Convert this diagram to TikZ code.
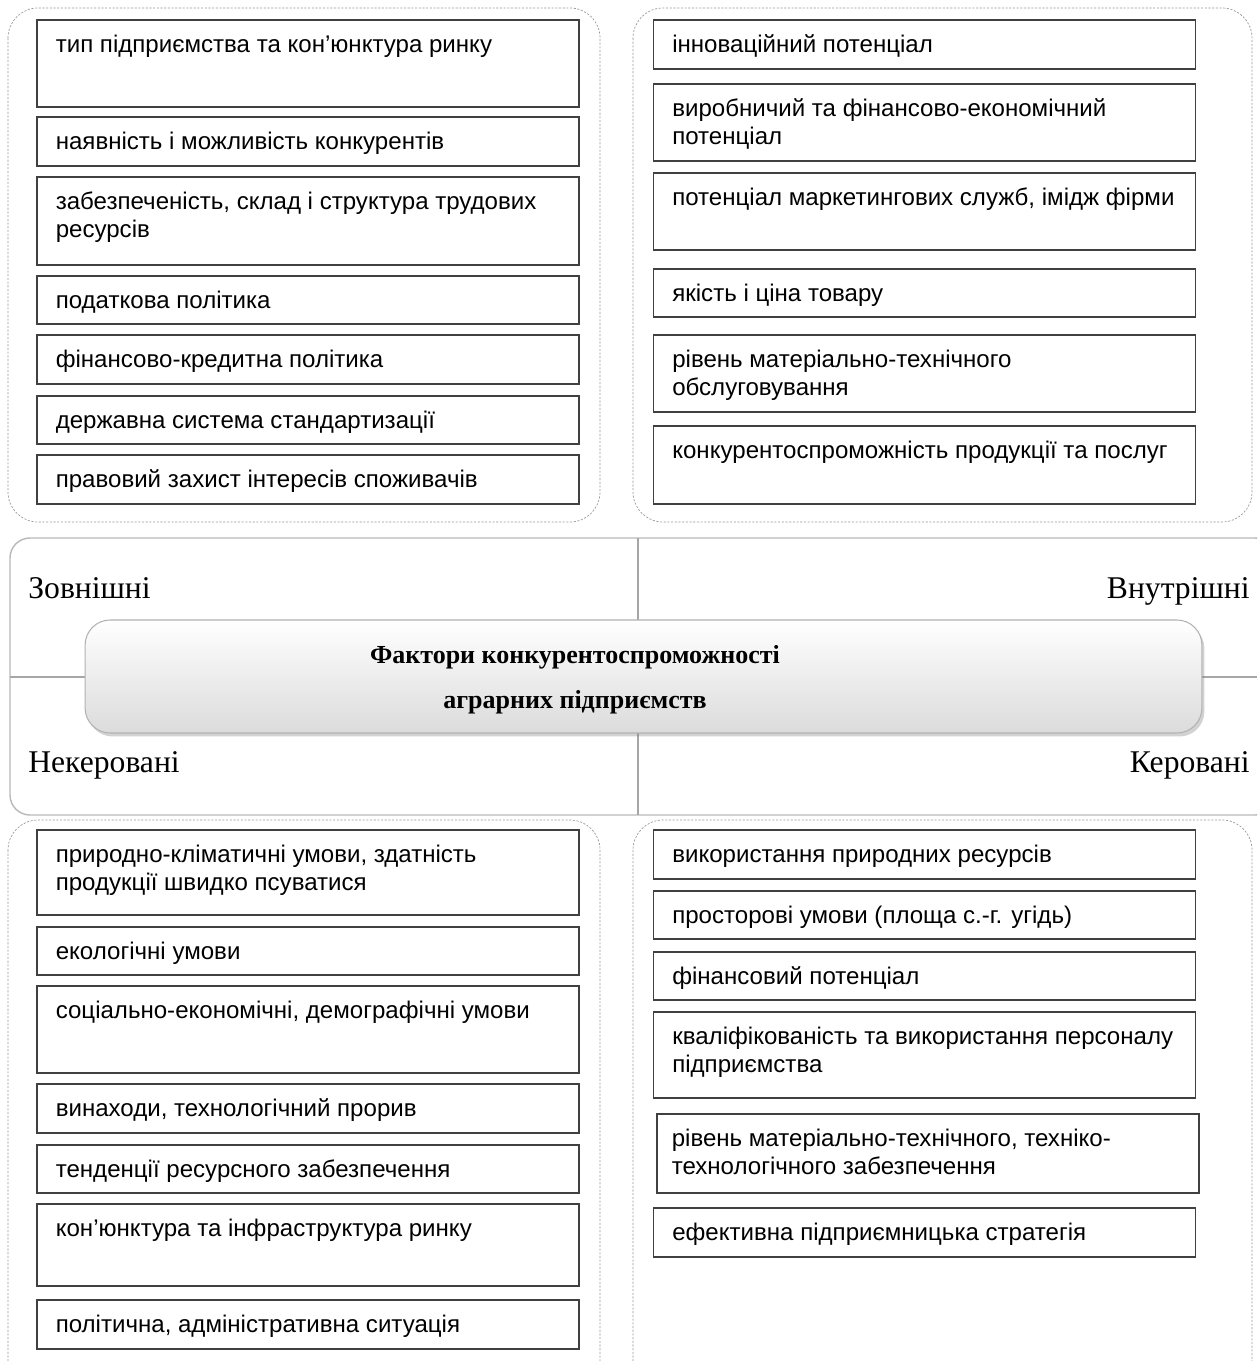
\documentclass[tikz,border=0pt]{standalone}
\usepackage{fontspec}
\setmainfont{Liberation Sans}
\newfontfamily\tnrfont{Liberation Serif}
\usetikzlibrary{calc, shadows}

\tikzset{
  x=0.02cm, y=-0.02cm,
  group/.style={draw=gray!80, line width=0.4pt, dash pattern=on 1.2pt off 0.9pt, rounded corners=0.6cm},
  factor/.style={draw=black!75, line width=0.7pt, inner sep=0pt, minimum width=10.84cm},
  factortext/.style={font=\fontsize{13.7}{15.8}\selectfont, anchor=base west, inner sep=0pt},
  axis/.style={draw=gray!70, line width=1pt},
  side/.style={font=\tnrfont\fontsize{18}{21}\selectfont, inner sep=0pt},
}

\begin{document}
\begin{tikzpicture}
\useasboundingbox (0,0) rectangle (1257,1361);
\clip (0,0) rectangle (1257,1361);

%groups of factors
\draw[group] (8,8) rectangle (600,522);
\draw[group] (633,8) rectangle (1252,522);
\draw[group] (8,820) rectangle (600,1400);
\draw[group] (633,820) rectangle (1252,1400);

%middle band
\draw[draw=gray!55, line width=0.8pt, rounded corners=0.4cm, fill=white] (10,538) rectangle (1275,815);
\coordinate (vtop) at (638,538);
\coordinate (vbot) at (638,815);
\coordinate (hl) at (10,677);
\coordinate (hr) at (1257,677);
\draw[axis] (vtop) -- (vbot);
\draw[axis] (hl) -- (hr);

\node[side, anchor=base west] (ext) at (28,598) {Зовнішні};
\node[side, anchor=base east] (int) at (1250,598) {Внутрішні};
\node[side, anchor=base west] (unc) at (28,772) {Некеровані};
\node[side, anchor=base east] (con) at (1250,772) {Керовані};

\node[draw=gray!60, line width=0.6pt, rounded corners=0.5cm, top color=white, bottom color=gray!28,
  drop shadow={opacity=0.35, shadow xshift=0.05cm, shadow yshift=-0.07cm},
  minimum width=22.34cm, minimum height=2.26cm] (main) at (643.5,676.5) {};
\node[font=\tnrfont\bfseries\fontsize{14.8}{25.5}\selectfont, align=center] (title) at (575,680)
  {Фактори конкурентоспроможності\\аграрних підприємств};

%top left
\foreach \n/\ya/\yb/\t in {
  1/20/107/{тип підприємства та кон’юнктура ринку},
  2/117/166/{наявність і можливість конкурентів},
  3/177/265/{забезпеченість, склад і структура трудових\\ресурсів},
  4/276/324/{податкова політика},
  5/335/384/{фінансово-кредитна політика},
  6/396/444/{державна система стандартизації},
  7/455/504/{правовий захист інтересів споживачів}}{
  \node[factor, minimum height={(\yb-\ya)*0.02cm}] (tl\n) at (308,{(\ya+\yb)/2}) {};
  \node[factortext] (tlt\n) at ($(tl\n.north west)+(19,33)$)
    {\begin{tabular}[t]{@{}l@{}}\t\end{tabular}};
}

%top right
\foreach \n/\ya/\yb/\t in {
  1/20/69/{інноваційний потенціал},
  2/84/161/{виробничий та фінансово-економічний\\потенціал},
  3/173/250/{потенціал маркетингових служб, імідж фірми},
  4/269/317/{якість і ціна товару},
  5/335/412/{рівень матеріально-технічного\\обслуговування},
  6/426/504/{конкурентоспроможність продукції та послуг}}{
  \node[factor, minimum height={(\yb-\ya)*0.02cm}] (tr\n) at (924.5,{(\ya+\yb)/2}) {};
  \node[factortext] (trt\n) at ($(tr\n.north west)+(19,33)$)
    {\begin{tabular}[t]{@{}l@{}}\t\end{tabular}};
}

%bottom left
\foreach \n/\ya/\yb/\t in {
  1/830/915/{природно-кліматичні умови, здатність\\продукції швидко псуватися},
  2/927/975/{екологічні умови},
  3/986/1073/{соціально-економічні, демографічні умови},
  4/1084/1133/{винаходи, технологічний прорив},
  5/1145/1193/{тенденції ресурсного забезпечення},
  6/1204/1286/{кон’юнктура та інфраструктура ринку},
  7/1300/1349/{політична, адміністративна ситуація}}{
  \node[factor, minimum height={(\yb-\ya)*0.02cm}] (bl\n) at (308,{(\ya+\yb)/2}) {};
  \node[factortext] (blt\n) at ($(bl\n.north west)+(19,33)$)
    {\begin{tabular}[t]{@{}l@{}}\t\end{tabular}};
}

%bottom right
\foreach \n/\xa/\dx/\ya/\yb/\t in {
  1/924.5/19/830/879/{використання природних ресурсів},
  2/924.5/19/891/939/{просторові умови (площа с.-г. угідь)},
  3/924.5/19/952/1000/{фінансовий потенціал},
  4/924.5/19/1012/1098/{кваліфікованість та використання персоналу\\підприємства},
  5/928/15/1114/1193/{рівень матеріально-технічного, техніко-\\технологічного забезпечення},
  6/924.5/19/1208/1257/{ефективна підприємницька стратегія}}{
  \node[factor, minimum height={(\yb-\ya)*0.02cm}] (br\n) at (\xa,{(\ya+\yb)/2}) {};
  \node[factortext] (brt\n) at ($(br\n.north west)+(\dx,33)$)
    {\begin{tabular}[t]{@{}l@{}}\t\end{tabular}};
}
\end{tikzpicture}
\end{document}
